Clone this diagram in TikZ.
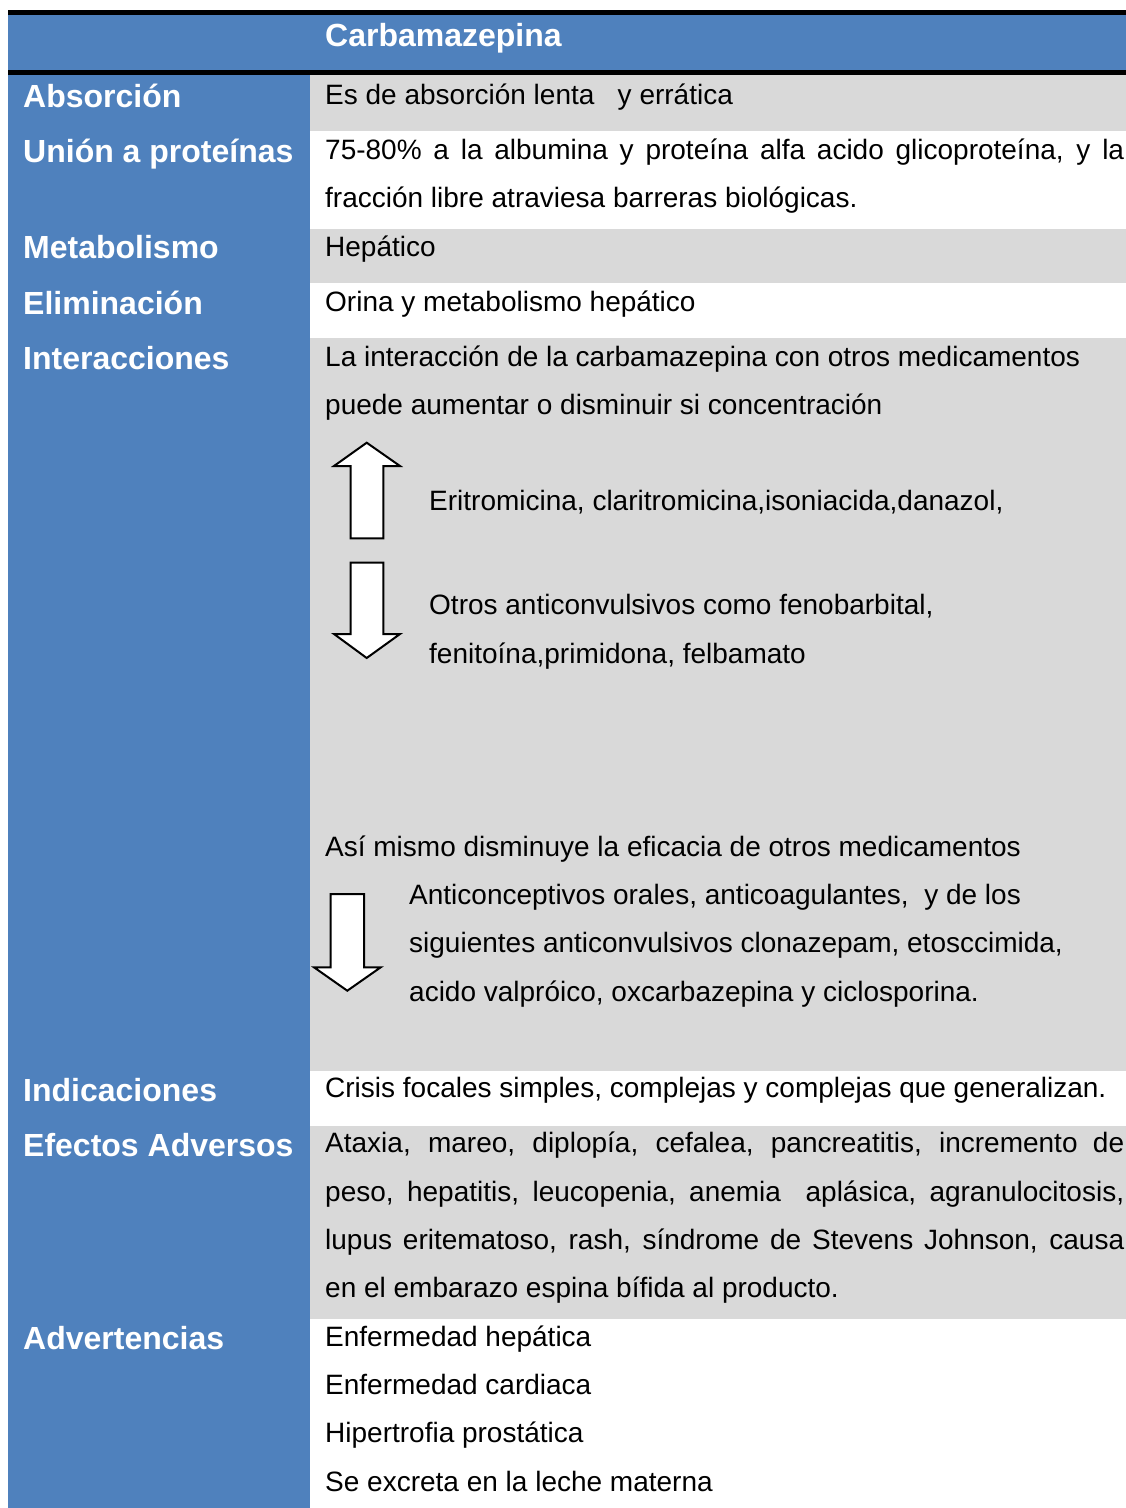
\documentclass[tikz,border=0pt]{standalone}
\usepackage{fontspec}
\setmainfont{Liberation Sans}
\definecolor{headblue}{HTML}{4F81BD}
\definecolor{rowgray}{HTML}{D9D9D9}
\begin{document}
\begin{tikzpicture}[x=1pt,y=-1pt,
  label/.style={anchor=base west,inner sep=0pt,text=white,font=\fontsize{32}{38}\selectfont\bfseries},
  body/.style={anchor=base west,inner sep=0pt,text=black,font=\fontsize{28}{48}\selectfont},
  blockarrow/.style={draw=black,fill=white,line width=2pt,line join=miter}]
\useasboundingbox (0,0) rectangle (1126,1508);
% cell backgrounds
\fill[headblue] (8,15) rectangle (1126,72);
\fill[headblue] (8,72) rectangle (310,1508);
\fill[rowgray] (310,75) rectangle (1126,131);
\fill[rowgray] (310,229) rectangle (1126,283);
\fill[rowgray] (310,338) rectangle (1126,1071);
\fill[rowgray] (310,1126) rectangle (1126,1319);
% header rules
\draw[line width=5pt] (8,12.5) -- (1126,12.5);
\draw[line width=4.5pt] (8,72.5) -- (1126,72.5);
% header
\node[label] (hdr) at (325,46) {Carbamazepina};
% row labels
\node[label] (labAbs) at (23,107) {Absorción};
\node[label] (labUni) at (23,162) {Unión a proteínas};
\node[label] (labMet) at (23,258) {Metabolismo};
\node[label] (labEli) at (23,314) {Eliminación};
\node[label] (labInt) at (23,369) {Interacciones};
\node[label] (labInd) at (23,1101) {Indicaciones};
\node[label] (labEfe) at (23,1156) {Efectos Adversos};
\node[label] (labAdv) at (23,1349) {Advertencias};
% cell texts
\node[body] (tAbs) at (325,104) {Es de absorción lenta\ \ \ y errática};
\node[body] (tUni1) at (325,159) {\makebox[799pt][s]{75-80\% a la albumina y proteína alfa acido glicoproteína, y la}};
\node[body] (tUni2) at (325,207) {fracción libre atraviesa barreras biológicas.};
\node[body] (tMet) at (325,256) {Hepático};
\node[body] (tEli) at (325,311) {Orina y metabolismo hepático};
\node[body] (tInt1) at (325,366) {La interacción de la carbamazepina con otros medicamentos};
\node[body] (tInt2) at (325,414) {puede aumentar o disminuir si concentración};
\node[body] (tUp) at (429,510) {Eritromicina, claritromicina,isoniacida,danazol,};
\node[body] (tDn1) at (429,614) {Otros anticonvulsivos como fenobarbital,};
\node[body] (tDn2) at (429,663) {fenitoína,primidona, felbamato};
\node[body] (tAsi) at (325,856) {Así mismo disminuye la eficacia de otros medicamentos};
\node[body] (tAnt1) at (409,904) {Anticonceptivos orales, anticoagulantes,\ \ y de los};
\node[body] (tAnt2) at (409,952) {siguientes anticonvulsivos clonazepam, etosccimida,};
\node[body] (tAnt3) at (409,1001) {acido valpróico, oxcarbazepina y ciclosporina.};
\node[body] (tInd) at (325,1097) {Crisis focales simples, complejas y complejas que generalizan.};
\node[body] (tEfe1) at (325,1152) {\makebox[799pt][s]{Ataxia, mareo, diplopía, cefalea, pancreatitis, incremento de}};
\node[body] (tEfe2) at (325,1201) {\makebox[799pt][s]{peso, hepatitis, leucopenia, anemia\ \ aplásica, agranulocitosis,}};
\node[body] (tEfe3) at (325,1249) {\makebox[799pt][s]{lupus eritematoso, rash, síndrome de Stevens Johnson, causa}};
\node[body] (tEfe4) at (325,1297) {en el embarazo espina bífida al producto.};
\node[body] (tAdv1) at (325,1346) {Enfermedad hepática};
\node[body] (tAdv2) at (325,1394) {Enfermedad cardiaca};
\node[body] (tAdv3) at (325,1442) {Hipertrofia prostática};
\node[body] (tAdv4) at (325,1491) {Se excreta en la leche materna};
% block arrows
\draw[blockarrow] (350.7,538.3) -- (350.7,466) -- (334,466) -- (366.7,442.7) -- (400,466) -- (383.3,466) -- (383.3,538.3) -- cycle;
\draw[blockarrow] (350.7,562.7) -- (383.3,562.7) -- (383.3,634) -- (400,634) -- (366.7,658) -- (334,634) -- (350.7,634) -- cycle;
\draw[blockarrow] (330.7,894) -- (364,894) -- (364,967.3) -- (380.7,967.3) -- (347.3,990.7) -- (314,967.3) -- (330.7,967.3) -- cycle;
\end{tikzpicture}
\end{document}
